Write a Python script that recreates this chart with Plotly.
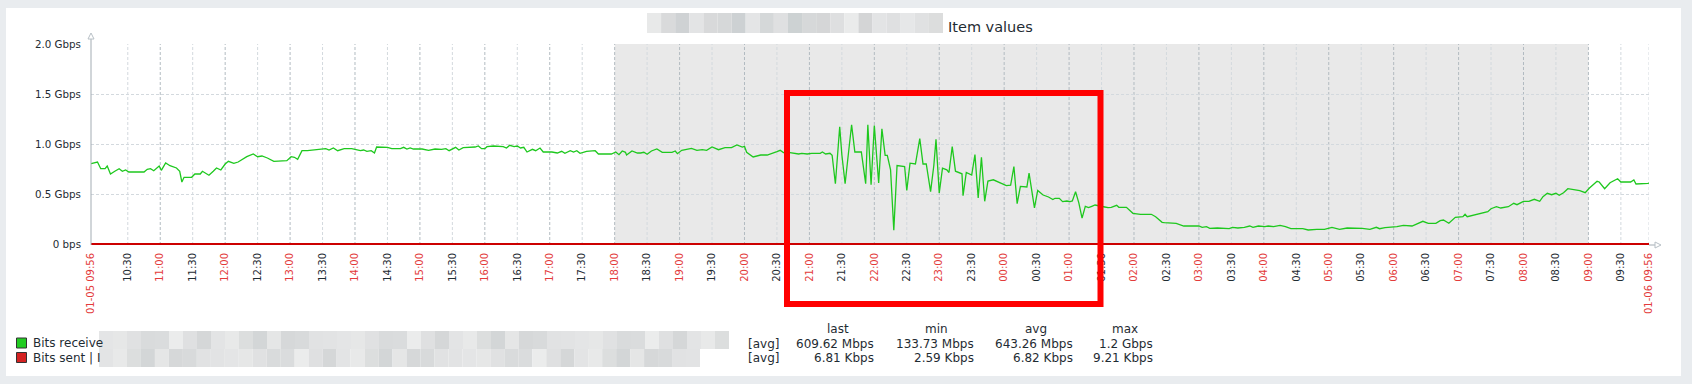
import plotly.graph_objects as go
import pandas as pd

YEAR = "2024"

# ---- data ----
rx_times = [
    "01-05 09:56", "01-05 10:02", "01-05 10:05", "01-05 10:09", "01-05 10:11", "01-05 10:14", "01-05 10:18",
    "01-05 10:22", "01-05 10:25", "01-05 10:28", "01-05 10:31", "01-05 10:45", "01-05 10:48", "01-05 10:51",
    "01-05 10:54", "01-05 10:59", "01-05 11:01", "01-05 11:05", "01-05 11:09", "01-05 11:15", "01-05 11:18",
    "01-05 11:20", "01-05 11:22", "01-05 11:29", "01-05 11:32", "01-05 11:37", "01-05 11:39", "01-05 11:45",
    "01-05 11:49", "01-05 11:52", "01-05 11:56", "01-05 12:00", "01-05 12:03", "01-05 12:08", "01-05 12:12",
    "01-05 12:20", "01-05 12:26", "01-05 12:30", "01-05 12:34", "01-05 12:39", "01-05 12:45", "01-05 12:57",
    "01-05 13:01", "01-05 13:04", "01-05 13:07", "01-05 13:11", "01-05 13:16", "01-05 13:26", "01-05 13:33",
    "01-05 13:36", "01-05 13:40", "01-05 13:44", "01-05 13:50", "01-05 13:57", "01-05 14:00",
    "01-05 14:05", "01-05 14:08", "01-05 14:11", "01-05 14:15", "01-05 14:18", "01-05 14:20", "01-05 14:30",
    "01-05 14:34", "01-05 14:42", "01-05 14:45", "01-05 14:48", "01-05 14:51", "01-05 14:54", "01-05 15:02",
    "01-05 15:08", "01-05 15:14", "01-05 15:20", "01-05 15:24", "01-05 15:27", "01-05 15:33", "01-05 15:36",
    "01-05 15:40", "01-05 15:47", "01-05 15:51", "01-05 15:54", "01-05 15:57", "01-05 16:00", "01-05 16:02",
    "01-05 16:08", "01-05 16:13", "01-05 16:17", "01-05 16:20", "01-05 16:23", "01-05 16:27", "01-05 16:30",
    "01-05 16:33", "01-05 16:36", "01-05 16:39", "01-05 16:44", "01-05 16:47", "01-05 16:51", "01-05 16:54",
    "01-05 17:02", "01-05 17:07", "01-05 17:11", "01-05 17:14", "01-05 17:19", "01-05 17:22", "01-05 17:25",
    "01-05 17:28", "01-05 17:34", "01-05 17:42", "01-05 17:45", "01-05 17:57", "01-05 18:01", "01-05 18:04",
    "01-05 18:07", "01-05 18:10", "01-05 18:11", "01-05 18:16", "01-05 18:21", "01-05 18:24", "01-05 18:27",
    "01-05 18:30", "01-05 18:34", "01-05 18:39", "01-05 18:44", "01-05 18:53", "01-05 18:56", "01-05 18:58",
    "01-05 19:02", "01-05 19:11", "01-05 19:16", "01-05 19:21", "01-05 19:25", "01-05 19:30", "01-05 19:36",
    "01-05 19:42", "01-05 19:48", "01-05 19:53", "01-05 19:58", "01-05 20:00", "01-05 20:02", "01-05 20:08",
    "01-05 20:15", "01-05 20:21", "01-05 20:25", "01-05 20:30", "01-05 20:33",
    "01-05 20:36", "01-05 20:42", "01-05 20:50", "01-05 20:53", "01-05 20:58", "01-05 21:02", "01-05 21:10",
    "01-05 21:12", "01-05 21:15", "01-05 21:19", "01-05 21:21", "01-05 21:24", "01-05 21:28", "01-05 21:30",
    "01-05 21:33", "01-05 21:36", "01-05 21:39", "01-05 21:42", "01-05 21:48", "01-05 21:52", "01-05 21:54",
    "01-05 21:57", "01-05 22:00", "01-05 22:04", "01-05 22:07", "01-05 22:10", "01-05 22:12", "01-05 22:15",
    "01-05 22:18", "01-05 22:21", "01-05 22:28", "01-05 22:30", "01-05 22:33", "01-05 22:38", "01-05 22:42",
    "01-05 22:45", "01-05 22:48", "01-05 22:52", "01-05 22:55", "01-05 22:57", "01-05 23:00", "01-05 23:03",
    "01-05 23:07", "01-05 23:09", "01-05 23:12", "01-05 23:15", "01-05 23:21", "01-05 23:22", "01-05 23:25",
    "01-05 23:30", "01-05 23:33", "01-05 23:36", "01-05 23:39", "01-05 23:42", "01-05 23:45", "01-05 23:50",
    "01-05 23:56", "01-06 00:02", "01-06 00:06", "01-06 00:09", "01-06 00:12", "01-06 00:15", "01-06 00:21",
    "01-06 00:23", "01-06 00:28", "01-06 00:31", "01-06 00:36", "01-06 00:41", "01-06 00:45", "01-06 00:47",
    "01-06 00:51", "01-06 00:54", "01-06 00:58", "01-06 01:01", "01-06 01:03", "01-06 01:06", "01-06 01:09",
    "01-06 01:12", "01-06 01:15", "01-06 01:18", "01-06 01:21", "01-06 01:24", "01-06 01:33", "01-06 01:36",
    "01-06 01:39", "01-06 01:44", "01-06 01:46", "01-06 01:53", "01-06 01:59", "01-06 02:06", "01-06 02:16",
    "01-06 02:20", "01-06 02:26", "01-06 02:28", "01-06 02:39", "01-06 02:46", "01-06 03:00", "01-06 03:03",
    "01-06 03:07", "01-06 03:10", "01-06 03:17", "01-06 03:28", "01-06 03:31", "01-06 03:36", "01-06 03:42",
    "01-06 03:47", "01-06 03:50", "01-06 03:55", "01-06 04:01", "01-06 04:04", "01-06 04:09", "01-06 04:15",
    "01-06 04:20", "01-06 04:25", "01-06 04:36", "01-06 04:41", "01-06 04:49", "01-06 04:56", "01-06 05:03",
    "01-06 05:10", "01-06 05:17", "01-06 05:31", "01-06 05:38", "01-06 05:44", "01-06 05:47", "01-06 05:52",
    "01-06 06:03", "01-06 06:09", "01-06 06:17", "01-06 06:22", "01-06 06:27", "01-06 06:32", "01-06 06:39",
    "01-06 06:43", "01-06 06:46", "01-06 06:51", "01-06 06:57", "01-06 07:04", "01-06 07:06", "01-06 07:08",
    "01-06 07:14", "01-06 07:23", "01-06 07:27", "01-06 07:30", "01-06 07:35", "01-06 07:39", "01-06 07:46",
    "01-06 07:51", "01-06 07:54", "01-06 08:00", "01-06 08:05", "01-06 08:10", "01-06 08:15", "01-06 08:18",
    "01-06 08:22", "01-06 08:26", "01-06 08:30", "01-06 08:33", "01-06 08:37", "01-06 08:41", "01-06 08:47",
    "01-06 08:52", "01-06 08:57", "01-06 09:01", "01-06 09:08", "01-06 09:10", "01-06 09:15", "01-06 09:20",
    "01-06 09:27", "01-06 09:30", "01-06 09:39", "01-06 09:42", "01-06 09:44", "01-06 09:50", "01-06 09:55",
    "01-06 09:56",
]
rx_gbps = [
    0.803, 0.82, 0.753, 0.753, 0.78, 0.70, 0.727,
    0.753, 0.727, 0.74, 0.72, 0.72, 0.747, 0.753,
    0.733, 0.78, 0.737, 0.81, 0.783, 0.76, 0.727,
    0.62, 0.667, 0.667, 0.70, 0.70, 0.727, 0.687,
    0.727, 0.76, 0.74, 0.80, 0.827, 0.807, 0.82,
    0.873, 0.90, 0.873, 0.88, 0.86, 0.827, 0.833,
    0.873, 0.867, 0.847, 0.933, 0.933, 0.947, 0.953,
    0.94, 0.96, 0.933, 0.953, 0.953, 0.945,
    0.933, 0.94, 0.927, 0.933, 0.91, 0.97, 0.967,
    0.953, 0.953, 0.967, 0.95, 0.96, 0.95, 0.95,
    0.937, 0.95, 0.947, 0.953, 0.933, 0.967, 0.94,
    0.963, 0.963, 0.97, 0.98, 0.953, 0.953, 0.973,
    0.98, 0.973, 0.973, 0.96, 0.987, 0.973, 0.98,
    0.96, 0.967, 0.92, 0.947, 0.933, 0.96, 0.92,
    0.92, 0.91, 0.927, 0.907, 0.933, 0.92, 0.933,
    0.907, 0.927, 0.933, 0.90, 0.90, 0.92, 0.893,
    0.93, 0.917, 0.89, 0.93, 0.91, 0.91, 0.917,
    0.897, 0.93, 0.95, 0.917, 0.917, 0.93, 0.903,
    0.937, 0.957, 0.937, 0.943, 0.937, 0.97, 0.943,
    0.963, 0.963, 0.99, 0.97, 0.977, 0.917, 0.87,
    0.89, 0.89, 0.903, 0.923, 0.937,
    0.914, 0.914, 0.90, 0.907, 0.90, 0.907, 0.907,
    0.92, 0.90, 0.907, 0.887, 0.603, 1.172, 0.89,
    0.603, 0.90, 1.192, 0.92, 0.92, 0.603, 1.192,
    0.593, 1.185, 0.61, 1.152, 0.887, 0.887, 0.742,
    0.139, 0.785, 0.775, 0.536, 0.808, 0.80, 1.053,
    0.80, 0.80, 0.523, 0.785, 1.046, 0.51, 0.758,
    0.742, 0.715, 0.974, 0.728, 0.702, 0.483, 0.715,
    0.689, 0.894, 0.46, 0.868, 0.427, 0.629, 0.642,
    0.609, 0.583, 0.589, 0.775, 0.404, 0.576, 0.57,
    0.709, 0.361, 0.536, 0.49, 0.47, 0.444, 0.457,
    0.457, 0.424, 0.43, 0.424, 0.43, 0.523, 0.411,
    0.258, 0.377, 0.364, 0.377, 0.39, 0.37, 0.364,
    0.367, 0.387, 0.367, 0.367, 0.307, 0.297, 0.297,
    0.273, 0.217, 0.213, 0.207, 0.18, 0.18, 0.167,
    0.173, 0.157, 0.16, 0.153, 0.167, 0.16, 0.167,
    0.18, 0.167, 0.18, 0.173, 0.18, 0.173, 0.187,
    0.173, 0.153, 0.153, 0.14, 0.147, 0.147, 0.167,
    0.147, 0.16, 0.157, 0.147, 0.167, 0.153, 0.163,
    0.173, 0.187, 0.18, 0.20, 0.227, 0.207, 0.207,
    0.233, 0.24, 0.207, 0.267, 0.273, 0.297, 0.273,
    0.287, 0.307, 0.323, 0.353, 0.373, 0.36, 0.373,
    0.407, 0.393, 0.427, 0.427, 0.447, 0.427, 0.473,
    0.507, 0.493, 0.507, 0.487, 0.513, 0.553, 0.543,
    0.533, 0.513, 0.56, 0.627, 0.62, 0.553, 0.613,
    0.653, 0.62, 0.62, 0.64, 0.60, 0.60, 0.607,
    0.6096,
]

tx_times = ["01-05 09:56", "01-05 12:00", "01-05 15:00", "01-05 18:00", "01-05 21:00",
            "01-06 00:00", "01-06 03:00", "01-06 06:00", "01-06 09:00", "01-06 09:56"]
tx_kbps = [6.9, 7.4, 7.1, 6.8, 8.2, 6.5, 5.9, 6.2, 6.7, 6.81]

y_tickvals = [0, 0.5, 1.0, 1.5, 2.0]
y_ticktext = ["0 bps", "0.5 Gbps", "1.0 Gbps", "1.5 Gbps", "2.0 Gbps"]

legend_names = ["Bits receive", "Bits sent | I"]
stat_headers = ["last", "min", "avg", "max"]
rx_stats = ["609.62 Mbps", "133.73 Mbps", "643.26 Mbps", "1.2 Gbps"]
tx_stats = ["6.81 Kbps", "2.59 Kbps", "6.82 Kbps", "9.21 Kbps"]

title_text = "Item values"
range_start = "01-05 09:56"
range_end = "01-06 09:56"
night_start = "01-05 18:00"
night_end = "01-06 09:00"

# ---- styling ----
FONT = "DejaVu Sans"
TXT = "#1f2c33"
RED_LBL = "#e33b3b"
GREEN = "#1ec81e"
RED_LINE = "#cc0000"
GRID_LIGHT = "#d3d9de"
GRID_DARK = "#b2bbc1"
W, H = 1692, 384
PL, PR, PT, PB = 91, 1649, 44, 245  # plot area in pixels


def ts(s):
    return pd.to_datetime(YEAR + "-" + s, format="%Y-%m-%d %H:%M")


def px_x(px):
    return (px - PL) / (PR - PL)


def px_y(py):
    return (PB - py) / (PB - PT)


t0, t1 = ts(range_start), ts(range_end)
half_hours = pd.date_range(ts("01-05 10:30"), ts("01-06 09:30"), freq="30min")

tickvals = [t0] + list(half_hours) + [t1]
ticktext = [f'<span style="color:{RED_LBL}">{range_start}</span>']
for t in half_hours:
    lab = t.strftime("%H:%M")
    if t.minute == 0:
        ticktext.append(f'<span style="color:{RED_LBL}">{lab}</span>')
    else:
        ticktext.append(f'<span style="color:{TXT}">{lab}</span>')
ticktext.append(f'<span style="color:{RED_LBL}">{range_end}</span>')

fig = go.Figure()
fig.add_trace(go.Scatter(
    x=[ts(s) for s in rx_times], y=rx_gbps, mode="lines",
    line=dict(color=GREEN, width=1.3), hoverinfo="skip", showlegend=False,
))
fig.add_trace(go.Scatter(
    x=[ts(s) for s in tx_times], y=[v / 1e6 for v in tx_kbps], mode="lines",
    line=dict(color=RED_LINE, width=2), hoverinfo="skip", showlegend=False,
))

shapes = []
# white panel
shapes.append(dict(type="rect", xref="paper", yref="paper", layer="below",
                   x0=px_x(6), x1=px_x(1681), y0=px_y(376), y1=px_y(8),
                   fillcolor="white", line=dict(width=0)))
# night shading
shapes.append(dict(type="rect", xref="x", yref="paper", layer="below",
                   x0=ts(night_start), x1=ts(night_end), y0=0, y1=1,
                   fillcolor="#e9e9e9", line=dict(width=0)))
# vertical grid lines
for t in list(half_hours) + [t1]:
    shapes.append(dict(type="line", xref="x", yref="paper", layer="below",
                       x0=t, x1=t, y0=0, y1=1,
                       line=dict(color=GRID_DARK if t.minute == 0 else GRID_LIGHT,
                                 width=1, dash="3px,2px")))
# y axis line + arrows
AX = "#a3acb3"
shapes.append(dict(type="line", xref="paper", yref="paper",
                   x0=px_x(91), x1=px_x(91), y0=px_y(245), y1=px_y(39),
                   line=dict(color=AX, width=1)))
shapes.append(dict(type="path", xref="paper", yref="paper",
                   path=f"M {px_x(88)},{px_y(39)} L {px_x(91)},{px_y(33)} L {px_x(94)},{px_y(39)} Z",
                   line=dict(color="#b8c0c6", width=1), fillcolor="rgba(0,0,0,0)"))
shapes.append(dict(type="line", xref="paper", yref="paper",
                   x0=px_x(1649), x1=px_x(1655), y0=px_y(245), y1=px_y(245),
                   line=dict(color=AX, width=1)))
shapes.append(dict(type="path", xref="paper", yref="paper",
                   path=f"M {px_x(1655)},{px_y(242)} L {px_x(1661)},{px_y(245)} L {px_x(1655)},{px_y(248)} Z",
                   line=dict(color="#b8c0c6", width=1), fillcolor="rgba(0,0,0,0)"))

# pixelated (blurred) blocks
title_shades = ["#e8e9e9", "#d9dadb", "#cfd2d4", "#e3e4e5", "#d8d9da", "#d6d8d9", "#cdd1d3",
                "#e4e5e6", "#d5d8d9", "#dfe0e1", "#cdd2d3", "#d6d8d9", "#d5d6d7", "#dedfe0",
                "#eaebeb", "#d4d5d6", "#e3e4e5", "#dfe0e1", "#e6e7e8", "#e0e1e2", "#dcdddd"]
bw = (943 - 647) / len(title_shades)
for i, c in enumerate(title_shades):
    shapes.append(dict(type="rect", xref="paper", yref="paper",
                       x0=px_x(647 + i * bw), x1=px_x(647 + (i + 1) * bw),
                       y0=px_y(33), y1=px_y(13), fillcolor=c, line=dict(width=0)))

legend_shades = ["#e4e5e6", "#ebecec", "#dcdede", "#e1e2e3", "#d9dbdc", "#e3e4e5", "#d6d8d9",
                 "#e6e7e7", "#dfe0e1", "#d3d6d7", "#e2e3e4", "#dadcdd", "#e8e9e9", "#d8dadb",
                 "#e0e1e2", "#d5d7d8", "#e5e6e6"]
for row, (x_end, ya, yb, off) in enumerate([(729, 331, 349, 0), (700, 349, 367, 5)]):
    n = round((x_end - 99) / 14)
    w = (x_end - 99) / n
    for i in range(n):
        c = legend_shades[(i * 7 + off) % len(legend_shades)]
        shapes.append(dict(type="rect", xref="paper", yref="paper",
                           x0=px_x(99 + i * w), x1=px_x(99 + (i + 1) * w),
                           y0=px_y(yb), y1=px_y(ya), fillcolor=c, line=dict(width=0)))

# legend squares
for (yc, col) in [(343, "#22cc22"), (357.5, "#d42222")]:
    shapes.append(dict(type="rect", xref="paper", yref="paper",
                       x0=px_x(16.5), x1=px_x(26.5), y0=px_y(yc + 5), y1=px_y(yc - 5),
                       fillcolor=col, line=dict(color="#333333", width=1)))

# red highlight box
shapes.append(dict(type="rect", xref="paper", yref="paper", layer="above",
                   x0=px_x(787), x1=px_x(1100.5), y0=px_y(304), y1=px_y(93),
                   fillcolor="rgba(0,0,0,0)", line=dict(color="#ff0000", width=6)))

ann = []
ann.append(dict(xref="paper", yref="paper", x=px_x(946), y=px_y(27), xanchor="left", yanchor="middle",
                text=title_text, showarrow=False, font=dict(family=FONT, size=14.5, color=TXT)))
for name, yc in zip(legend_names, [343, 357.5]):
    ann.append(dict(xref="paper", yref="paper", x=px_x(31), y=px_y(yc), xanchor="left", yanchor="middle",
                    text=name, showarrow=False, font=dict(family=FONT, size=12, color=TXT)))
for h, xc in zip(stat_headers, [838, 936, 1036, 1125]):
    ann.append(dict(xref="paper", yref="paper", x=px_x(xc), y=px_y(329), xanchor="center", yanchor="middle",
                    text=h, showarrow=False, font=dict(family=FONT, size=12, color=TXT)))
for vals, yc in [(rx_stats, 344), (tx_stats, 358)]:
    ann.append(dict(xref="paper", yref="paper", x=px_x(746), y=px_y(yc), xanchor="left", yanchor="middle",
                    text="[avg]", showarrow=False, font=dict(family=FONT, size=12, color=TXT)))
    for v, xr in zip(vals, [876, 976, 1075, 1155]):
        ann.append(dict(xref="paper", yref="paper", x=px_x(xr), y=px_y(yc), xanchor="right", yanchor="middle",
                        text=v, showarrow=False, font=dict(family=FONT, size=12, color=TXT)))

fig.update_layout(
    width=W, height=H, autosize=False,
    margin=dict(l=PL, r=W - PR, t=PT, b=H - PB, pad=0),
    paper_bgcolor="#e9ecef", plot_bgcolor="white",
    font=dict(family=FONT, color=TXT),
    shapes=shapes, annotations=ann, showlegend=False,
    xaxis=dict(type="date", range=[t0, t1], tickmode="array", tickvals=tickvals, ticktext=ticktext,
               tickangle=-90, tickfont=dict(family=FONT, size=10), showgrid=False, zeroline=False,
               showline=False, ticks="", ticklabelstandoff=5, fixedrange=True),
    yaxis=dict(range=[-0.01, 2.0], tickmode="array", tickvals=y_tickvals, ticktext=y_ticktext,
               tickfont=dict(family=FONT, size=10.3, color=TXT), showgrid=True, gridcolor=GRID_LIGHT,
               griddash="3px,2px", gridwidth=1, zeroline=False, showline=False, ticks="",
               ticklabelstandoff=9, fixedrange=True),
)

fig.write_html(
    "out.html",
    config={"displayModeBar": False, "staticPlot": True},
    post_script="document.body.style.margin='0';document.body.style.overflow='hidden';"
                "document.body.style.background='#e9ecef';",
)
